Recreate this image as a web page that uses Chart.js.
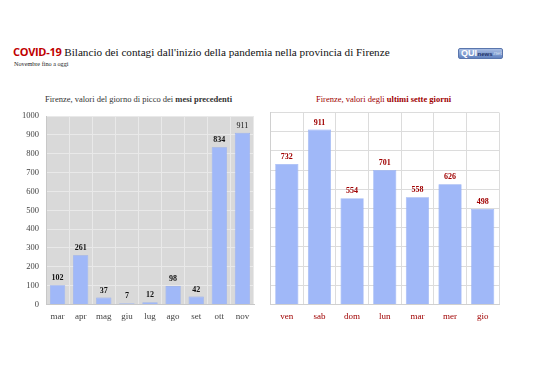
<!DOCTYPE html>
<html>
<head>
<meta charset="utf-8">
<script src="https://cdn.jsdelivr.net/npm/chart.js@4.4.0/dist/chart.umd.min.js"></script>
<style>
  html, body { margin:0; padding:0; background:#fff; }
  body { width:538px; height:380px; position:relative; overflow:hidden; font-family:"Liberation Serif", "Times New Roman", serif; }
  .abs { position:absolute; white-space:nowrap; }
  #title { left:13px; top:45px; font-size:11.2px; line-height:13px; color:#111; }
  #title b { font-family:"Open Sans", "Liberation Sans", sans-serif; color:#c00000; font-weight:700; font-size:11px; letter-spacing:-0.3px; }
  #sub { left:14px; top:60px; font-size:6.2px; line-height:8px; color:#222; }
  #logo { left:458px; top:48px; width:45px; height:11px; border-radius:2px;
          background:linear-gradient(#a9bde3,#6283c0); font-family:"Liberation Sans", sans-serif;
          display:flex; align-items:center; padding-left:2px; box-sizing:border-box; border:0.5px solid #5a76ad; overflow:hidden; }
  #logo span { line-height:1; display:inline-block; }
  #logo .q { color:#fff; font-weight:700; font-size:9px; }
  #logo .n { color:#1c2f66; font-weight:700; font-size:6px; margin-left:0.5px; }
  #logo .t { color:#d7e1f5; font-size:5.5px; }
  #lt { left:45px; top:94px; font-size:8.5px; color:#333; }
  #rt { left:316px; top:94px; font-size:8.5px; color:#a00000; }
  #c1wrap { left:0px; top:104px; width:262px; height:226px; }
  #c2wrap { left:262px; top:104px; width:276px; height:226px; }
</style>
</head>
<body>
<div id="title" class="abs"><b>COVID-19</b> Bilancio dei contagi dall'inizio della pandemia nella provincia di Firenze</div>
<div id="sub" class="abs">Novembre fino a oggi</div>
<div id="logo" class="abs"><span class="q">QUI</span><span class="n">news</span><span class="t">.net</span></div>
<div id="lt" class="abs">Firenze, valori del giorno di picco dei <b>mesi precedenti</b></div>
<div id="rt" class="abs">Firenze, valori degli <b>ultimi sette giorni</b></div>
<div id="c1wrap" class="abs"><canvas id="c1"></canvas></div>
<div id="c2wrap" class="abs"><canvas id="c2"></canvas></div>
<script>
const months = ['mar','apr','mag','giu','lug','ago','set','ott','nov'];
const monthPeaks = [102, 261, 37, 7, 12, 98, 42, 834, 911];
const days = ['ven','sab','dom','lun','mar','mer','gio'];
const dayValues = [732, 911, 554, 701, 558, 626, 498];
const yMin = 0, yMax = 1000, yStep = 100;

const SERIF = '"Liberation Serif", "Times New Roman", serif';
const BAR = '#a0b8f8';
const BAR_BORDER = '#8ea9f0';

const plotBg = {
  id: 'plotBg',
  beforeDraw(chart, args, opts) {
    if (!opts.color) return;
    const a = chart.chartArea, ctx = chart.ctx;
    ctx.save(); ctx.fillStyle = opts.color;
    ctx.fillRect(a.left, a.top, a.right - a.left, a.bottom - a.top);
    ctx.restore();
  }
};
const valueLabels = {
  id: 'valueLabels',
  afterDatasetsDraw(chart, args, opts) {
    const ctx = chart.ctx;
    const meta = chart.getDatasetMeta(0);
    const data = chart.data.datasets[0].data;
    meta.data.forEach((bar, i) => {
      ctx.save();
      const plain = (opts.plain || []).includes(i);
      ctx.font = (plain ? '' : 'bold ') + '8px ' + SERIF;
      ctx.fillStyle = opts.color;
      ctx.textAlign = 'center';
      ctx.textBaseline = 'bottom';
      ctx.fillText(String(data[i]), bar.x, bar.y - 3);
      ctx.restore();
    });
  }
};

function makeChart(id, labels, values, o) {
  return new Chart(document.getElementById(id), {
    type: 'bar',
    data: { labels, datasets: [{ data: values, backgroundColor: BAR, borderColor: BAR_BORDER, borderWidth: 0.6,
      categoryPercentage: o.cat, barPercentage: 1 }] },
    options: {
      responsive: true, maintainAspectRatio: false, animation: false,
      devicePixelRatio: 1,
      layout: { padding: o.padding },
      plugins: {
        legend: { display: false }, tooltip: { enabled: false }, title: { display: false },
        plotBg: { color: o.bg },
        valueLabels: { color: o.labelColor, plain: o.plain }
      },
      scales: {
        x: {
          grid: { color: o.grid, drawTicks: false, offset: true },
          border: { color: o.border },
          ticks: { color: o.xColor, padding: 7, font: { family: SERIF, size: 9 } },
          afterFit(s) { s.height = 25.5; }
        },
        y: {
          min: yMin, max: yMax,
          grid: { color: o.grid, drawTicks: false },
          border: { color: o.border },
          ticks: { display: o.yLabels, stepSize: yStep, padding: 7, color: '#444',
                   font: { family: SERIF, size: 8.5 }, callback: v => String(v) },
          afterFit(s) { s.width = o.yWidth; }
        }
      }
    },
    plugins: [plotBg, valueLabels]
  });
}

makeChart('c1', months, monthPeaks, {
  cat: 0.66, padding: { left: 0, right: 8, top: 8.5, bottom: 0 },
  bg: '#d9d9d9', grid: '#e9e9e9', border: '#c8c8c8', labelColor: '#111', plain: [8],
  xColor: '#444', yLabels: true, yWidth: 46
});
makeChart('c2', days, dayValues, {
  cat: 0.71, padding: { left: 8.5, right: 39, top: 8.5, bottom: 0 },
  bg: null, grid: '#dcdcdc', border: '#d0d0d0', labelColor: '#a00000', plain: [],
  xColor: '#a00000', yLabels: false, yWidth: 0
});
</script>
</body>
</html>
